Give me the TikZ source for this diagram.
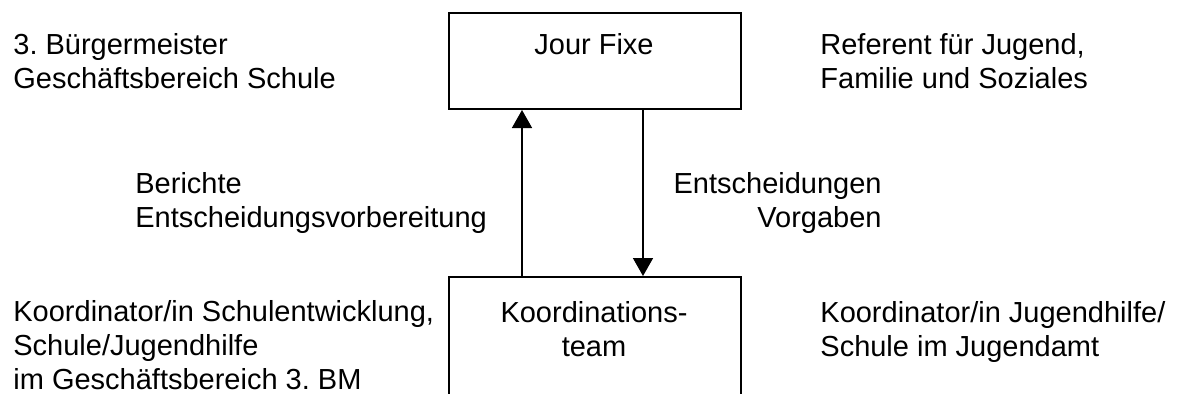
\documentclass[tikz,border=0pt]{standalone}
\usepackage{fontspec}
\setmainfont{Liberation Sans}
\frenchspacing
\usetikzlibrary{arrows.meta}
\usetikzlibrary{positioning}

\begin{document}
\begin{tikzpicture}[x=0.5pt, y=-0.5pt,
        kasten/.style={draw, line width=1pt, inner sep=0pt, minimum width=146pt},
        beschriftung/.style={inner sep=0pt, font=\fontsize{14.5}{16.8}\selectfont},
        pfeil/.style={line width=0.8pt, -{Triangle[width=10pt,length=9pt]}}]
    \useasboundingbox (0,0) rectangle (1179,393);
    \clip (0,0) rectangle (1179,393);

    % Kaesten
    \node (jour) [kasten, minimum height=48pt, anchor=north west] at (448,12) {};
    \node (team) [kasten, minimum height=80pt, anchor=north west] at (448,276) {};

    \node (jourtext) [beschriftung, anchor=base] at (594,54) {Jour Fixe};
    \node (teamtext) [beschriftung, align=center, anchor=base] at (594,356) {Koordinations-\\team};

    % Pfeile
    \draw [pfeil] ([xshift=37pt]team.north west) -- ([xshift=37pt]jour.south west);
    \draw [pfeil] ([xshift=97.5pt]jour.south west) -- ([xshift=97.5pt]team.north west);

    % Beschriftungen (base = letzte Zeile)
    \node (buergermeister) [beschriftung, align=left, anchor=base west] at (13,88) {3. Bürgermeister\\Geschäftsbereich Schule};
    \node (referent) [beschriftung, align=left, anchor=base west] at (820,88) {Referent für Jugend,\\Familie und Soziales};
    \node (berichte) [beschriftung, align=left, anchor=base west] at (135,227) {Berichte\\Entscheidungsvorbereitung};
    \node (entscheidungen) [beschriftung, align=right, anchor=base east] at (882,227) {Entscheidungen\\Vorgaben};
    \node (koordlinks) [beschriftung, align=left, anchor=base west] at (13,389) {Koordinator/in Schulentwicklung,\\Schule/Jugendhilfe\\im Geschäftsbereich 3. BM};
    \node (koordrechts) [beschriftung, align=left, anchor=base west] at (820,356) {Koordinator/in Jugendhilfe/\\Schule im Jugendamt};
\end{tikzpicture}
\end{document}
